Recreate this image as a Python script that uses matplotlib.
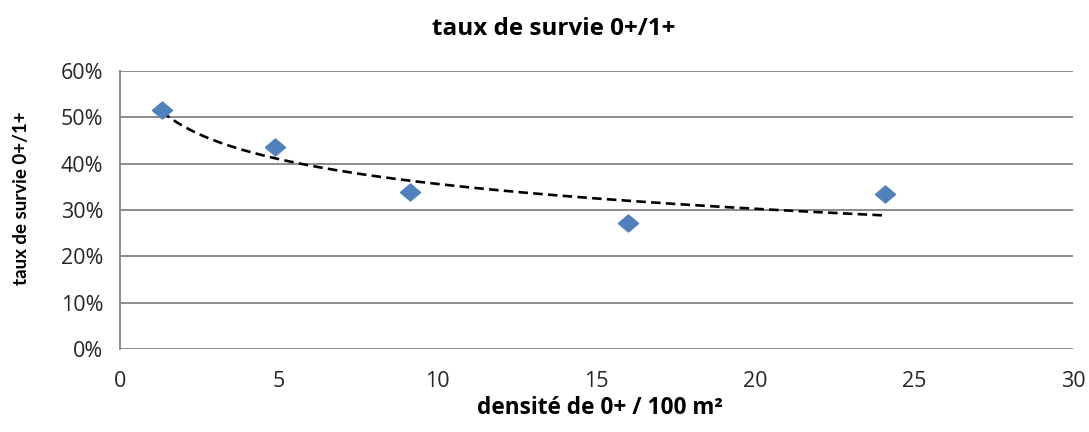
import matplotlib.pyplot as plt
import numpy as np
from matplotlib.ticker import PercentFormatter

# densité de 0+ pour 100 m² et taux de survie 0+/1+
densite = [1.32, 4.88, 9.13, 15.99, 24.08]
survie = [0.515, 0.435, 0.338, 0.273, 0.335]

titre = 'taux de survie 0+/1+'
titre_x = 'densité de 0+ / 100 m²'
titre_y = 'taux de survie 0+/1+'

plt.rcParams['font.family'] = ['Open Sans', 'DejaVu Sans']

fig = plt.figure(figsize=(10.89, 4.32), dpi=100)
ax = fig.add_axes([0.1102, 0.1921, 0.8751, 0.6435])

# courbe de tendance logarithmique  y = a + b ln(x)
x = np.array(densite)
y = np.array(survie)
b, a = np.polyfit(np.log(x), y, 1)
xt = np.linspace(x.min(), x.max(), 200)
yt = a + b * np.log(xt)

ax.plot(xt, yt, color='black', linestyle=(0, (3.6, 2.0)), linewidth=1.9, zorder=2)

# losange un peu plus large que haut
losange = [(-1, 0), (0, 0.85), (1, 0), (0, -0.85), (-1, 0)]
ax.plot(densite, survie, linestyle='none', marker=losange, markersize=14.5,
        color='#4F81BD', markeredgecolor='#4F81BD', zorder=3)

ax.set_xlim(0, 30)
ax.set_ylim(0, 0.6)
ax.set_xticks(range(0, 31, 5))
ax.set_yticks(np.arange(0, 0.61, 0.1))
ax.yaxis.set_major_formatter(PercentFormatter(1.0, decimals=0))
ax.grid(axis='y', color='#8c8c8c', linewidth=1.4)
ax.set_axisbelow(True)
for s in ['top', 'right', 'bottom']:
    ax.spines[s].set_visible(False)
ax.spines['left'].set_color('#8c8c8c')
ax.spines['left'].set_linewidth(1.4)
ax.tick_params(length=0, labelsize=15.5, colors='#262626')
ax.tick_params(axis='y', pad=12)
ax.tick_params(axis='x', pad=16)

fig.text(0.508, 0.933, titre, ha='center', va='center', fontsize=17.5, fontweight='bold')
fig.text(0.551, 0.0556, titre_x, ha='center', va='center',
         fontsize=16.3, fontweight='bold')
fig.text(0.0202, 0.5417, titre_y, ha='center', va='center', rotation=90,
         fontsize=13.5, fontweight='bold', family=['Lato', 'DejaVu Sans'])

fig.savefig('out.png', dpi=100)
